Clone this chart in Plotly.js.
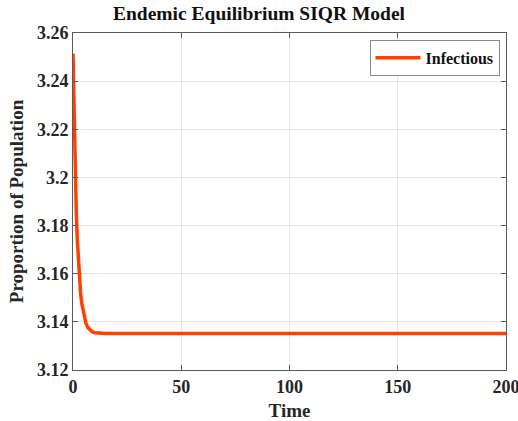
<!DOCTYPE html>
<html>
<head>
<meta charset="utf-8">
<script src="https://cdn.plot.ly/plotly-3.0.1.min.js"></script>
<style>html,body{margin:0;padding:0;background:#fff;}#chart{width:518px;height:421px;}</style>
</head>
<body>
<div id="chart"></div>
<script>
const time = [0,0.5,1,1.5,2,2.5,3,3.5,4,5,6,7,8,9,10,12,15,20,30,40,50,60,70,80,90,100,110,120,130,140,150,160,170,180,190,200];
const infectious = [3.2515,3.2235,3.2022,3.1861,3.1738,3.1645,3.1574,3.1520,3.1479,3.1425,3.1393,3.1375,3.1364,3.1358,3.1355,3.1353,3.1352,3.1352,3.1352,3.1352,3.1352,3.1352,3.1352,3.1352,3.1352,3.1352,3.1352,3.1352,3.1352,3.1352,3.1352,3.1352,3.1352,3.1352,3.1352,3.1352];
const yTickVals = [3.12,3.14,3.16,3.18,3.2,3.22,3.24,3.26];
const yTickText = ["3.12","3.14","3.16","3.18","3.2","3.22","3.24","3.26"];
const xTickVals = [0,50,100,150,200];
const xTickText = ["0","50","100","150","200"];

const font = "'Liberation Serif','Times New Roman',serif";
const axisCommon = {
  showgrid: true, gridcolor: '#e6e6e6', gridwidth: 1,
  showline: true, linecolor: '#5a5a5a', linewidth: 1, mirror: 'ticks',
  ticks: 'inside', ticklen: 5, tickcolor: '#5a5a5a',
  zeroline: false, ticklabeloverflow: 'allow',
  tickfont: {family: font, size: 18, color: '#262626', weight: 'bold'}
};
const data = [{
  x: time, y: infectious, type: 'scatter', mode: 'lines', name: 'Infectious',
  line: {color: '#ff4000', width: 3.5}
}];
const layout = {
  width: 518, height: 421,
  margin: {l: 73, r: 12, t: 33, b: 51},
  paper_bgcolor: '#fff', plot_bgcolor: '#fff',
  font: {family: font, color: '#262626'},
  title: {text: 'Endemic Equilibrium SIQR Model', font: {family: font, size: 19.5, color: '#111', weight: 'bold'}, x: 0.5, xanchor: 'center', y: 0.985, yanchor: 'top'},
  xaxis: Object.assign({}, axisCommon, {range: [0, 200], tickvals: xTickVals, ticktext: xTickText,
    title: {text: 'Time', font: {family: font, size: 19, color: '#262626', weight: 'bold'}, standoff: 8}}),
  yaxis: Object.assign({}, axisCommon, {range: [3.12, 3.26], tickvals: yTickVals, ticktext: yTickText,
    title: {text: 'Proportion of Population', font: {family: font, size: 19, color: '#262626', weight: 'bold'}, standoff: 8}}),
  showlegend: true,
  legend: {x: 0.985, xanchor: 'right', y: 0.98, yanchor: 'top', bgcolor: '#fff', bordercolor: '#8a8a8a', borderwidth: 1,
    itemwidth: 45, font: {family: font, size: 16, color: '#111', weight: 'bold'}}
};
Plotly.newPlot('chart', data, layout, {displayModeBar: false, staticPlot: true});
</script>
</body>
</html>
